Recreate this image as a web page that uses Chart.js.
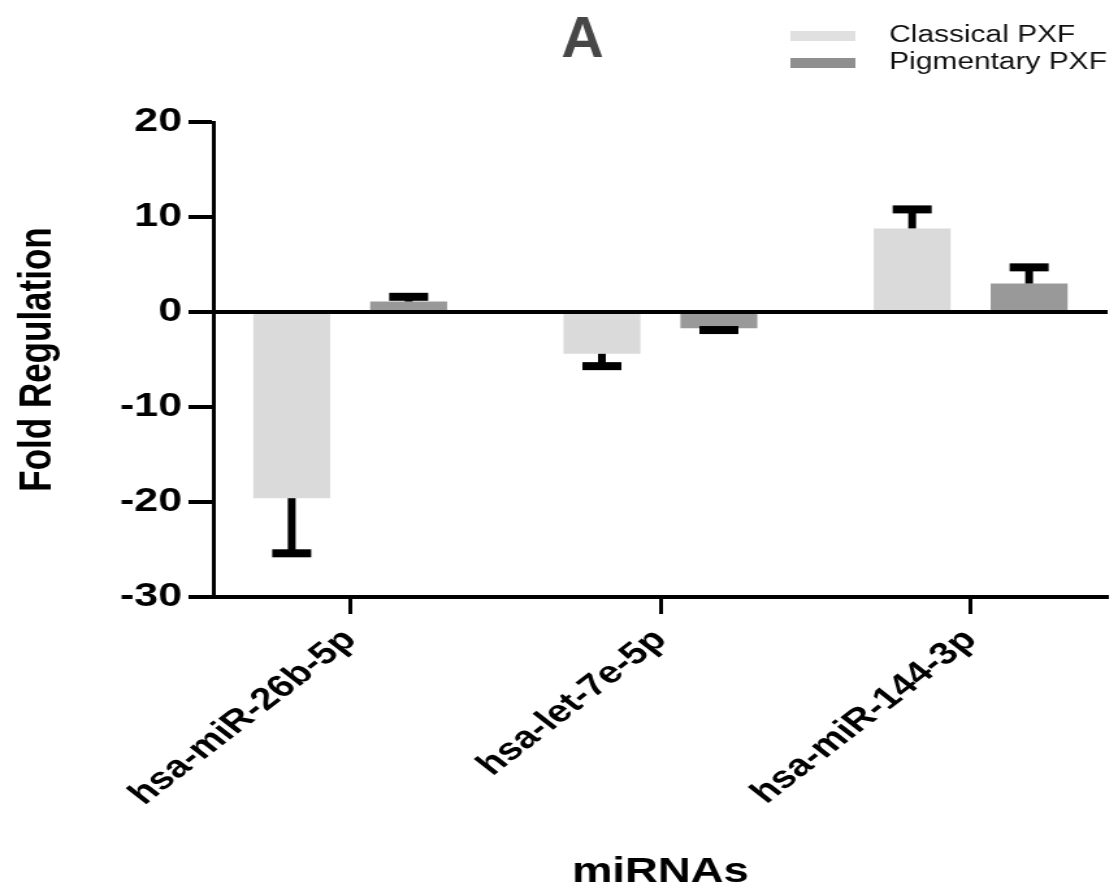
<!DOCTYPE html>
<html lang="en">
<head>
    <meta charset="UTF-8">
    <title>Fold Regulation - miRNAs</title>
    <script src="https://cdn.jsdelivr.net/npm/chart.js"></script>
    <style>
        body {
            margin: 0;
            background: #fff;
            overflow: hidden;
        }

        /* the original figure is stretched sideways, so the chart is drawn narrow and widened */
        .wrap {
            width: 856px;
            height: 893px;
            transform: scaleX(1.3);
            transform-origin: 0 0;
        }
    </style>
</head>
<body>

<div class="wrap">
    <canvas id="foldChart"></canvas>
</div>

<script>
    const categories = ['hsa-miR-26b-5p', 'hsa-let-7e-5p', 'hsa-miR-144-3p'];
    const classical = [-19.6, -4.4, 8.8];
    const classicalErr = [5.8, 1.3, 2.0];
    const pigmentary = [1.1, -1.7, 3.0];
    const pigmentaryErr = [0.5, 0.2, 1.7];
    const yTicks = [-30, -20, -10, 0, 10, 20];

    const fontFamily = "'Liberation Sans', Arial, sans-serif";

    function points(values) {
        return values.map((v, i) => ({ x: i, y: v }));
    }

    // one sided error bars, pointing away from zero
    const errorBars = {
        id: 'errorBars',
        afterDatasetsDraw(chart) {
            const ctx = chart.ctx;
            const yScale = chart.scales.y;
            ctx.save();
            ctx.fillStyle = '#000';
            chart.data.datasets.forEach((ds, di) => {
                const meta = chart.getDatasetMeta(di);
                meta.data.forEach((bar, i) => {
                    const v = ds.data[i].y;
                    const end = v < 0 ? v - ds.errors[i] : v + ds.errors[i];
                    const yEnd = yScale.getPixelForValue(end);
                    const top = Math.min(bar.y, yEnd);
                    ctx.fillRect(bar.x - 3, top, 6, Math.abs(yEnd - bar.y));
                    ctx.fillRect(bar.x - 15, yEnd - 4, 30, 8);
                });
            });
            ctx.restore();
        }
    };

    // title letter and legend in the top right corner
    const decorations = {
        id: 'decorations',
        afterDraw(chart) {
            const ctx = chart.ctx;
            ctx.save();
            ctx.fillStyle = '#474747';
            ctx.font = 'bold 58px ' + fontFamily;
            ctx.textAlign = 'center';
            ctx.textBaseline = 'middle';
            ctx.translate(448, 41);
            ctx.scale(0.78, 1);
            ctx.fillText('A', 0, 0);
            ctx.restore();

            ctx.save();
            ctx.font = '23px ' + fontFamily;
            ctx.textBaseline = 'middle';
            ctx.textAlign = 'left';
            const rows = [36, 63];
            chart.data.datasets.forEach((ds, i) => {
                ctx.fillStyle = ds.legendColor;
                ctx.fillRect(608, rows[i] - 5, 50, 10);
                ctx.fillStyle = '#111';
                ctx.fillText(ds.label, 684, rows[i]);
            });
            ctx.restore();
        }
    };

    new Chart(document.getElementById('foldChart'), {
        type: 'bar',
        data: {
            datasets: [
                {
                    label: 'Classical PXF',
                    data: points(classical),
                    errors: classicalErr,
                    backgroundColor: '#dadada',
                    legendColor: '#e0e0e0',
                    categoryPercentage: 0.754,
                    barPercentage: 0.658
                },
                {
                    label: 'Pigmentary PXF',
                    data: points(pigmentary),
                    errors: pigmentaryErr,
                    backgroundColor: '#999999',
                    legendColor: '#8f8f8f',
                    categoryPercentage: 0.754,
                    barPercentage: 0.658
                }
            ]
        },
        options: {
            responsive: true,
            maintainAspectRatio: false,
            animation: false,
            layout: { padding: { top: 122, left: 0, right: 4, bottom: 0 } },
            plugins: {
                legend: { display: false },
                title: { display: false },
                tooltip: { enabled: false }
            },
            scales: {
                x: {
                    type: 'linear',
                    offset: false,
                    min: -0.4415,
                    max: 2.4415,
                    afterBuildTicks: scale => {
                        scale.ticks = categories.map((c, i) => ({ value: i }));
                    },
                    afterFit: scale => { scale.height = 296; },
                    ticks: {
                        autoSkip: false,
                        minRotation: 45,
                        maxRotation: 45,
                        padding: 8,
                        color: '#000',
                        font: { family: fontFamily, size: 31, weight: 'bold' },
                        callback: v => categories[v]
                    },
                    grid: {
                        offset: false,
                        drawOnChartArea: false,
                        tickLength: 17,
                        tickWidth: 3,
                        tickColor: '#000',
                        color: '#000'
                    },
                    border: { display: true, color: '#000', width: 4 },
                    title: {
                        display: true,
                        text: 'miRNAs',
                        color: '#000',
                        padding: { top: 0, bottom: 0 },
                        font: { family: fontFamily, size: 35, weight: 'bold' }
                    }
                },
                y: {
                    min: -30,
                    max: 20,
                    afterBuildTicks: scale => {
                        scale.ticks = yTicks.map(v => ({ value: v }));
                    },
                    afterFit: scale => { scale.width = 164; },
                    ticks: {
                        padding: 5,
                        color: '#000',
                        font: { family: fontFamily, size: 33, weight: 'bold' }
                    },
                    grid: {
                        drawOnChartArea: true,
                        color: c => (c.tick && c.tick.value === 0 ? '#000' : 'rgba(0,0,0,0)'),
                        lineWidth: 4,
                        tickLength: 19,
                        tickWidth: 4,
                        tickColor: '#000'
                    },
                    border: { display: true, color: '#000', width: 3 },
                    title: {
                        display: true,
                        text: 'Fold Regulation',
                        color: '#000',
                        padding: { top: 8, bottom: 0 },
                        font: { family: fontFamily, size: 35, weight: 'bold' }
                    }
                }
            }
        },
        plugins: [errorBars, decorations]
    });
</script>

</body>
</html>
